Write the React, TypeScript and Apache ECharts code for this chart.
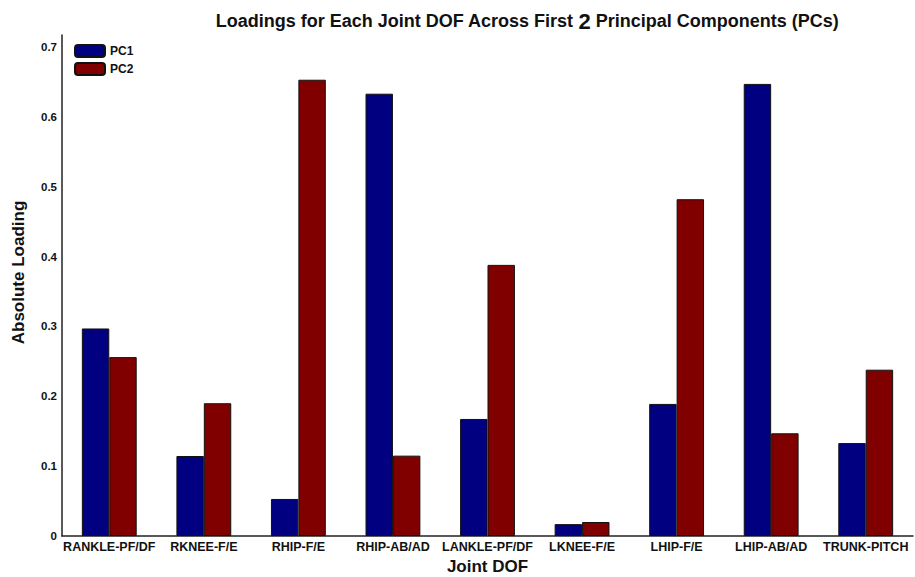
import React, { useEffect, useRef } from "react";
import * as echarts from "echarts";

const categories = [
  "RANKLE-PF/DF",
  "RKNEE-F/E",
  "RHIP-F/E",
  "RHIP-AB/AD",
  "LANKLE-PF/DF",
  "LKNEE-F/E",
  "LHIP-F/E",
  "LHIP-AB/AD",
  "TRUNK-PITCH",
];
const pc1 = [0.297, 0.1145, 0.053, 0.633, 0.1675, 0.017, 0.189, 0.647, 0.133];
const pc2 = [0.256, 0.19, 0.653, 0.115, 0.388, 0.02, 0.482, 0.147, 0.238];

const SANS = '"Liberation Sans", Arial, Helvetica, sans-serif';

export default function App() {
  const ref = useRef<HTMLDivElement>(null);
  useEffect(() => {
    if (!ref.current) return;
    const chart = echarts.init(ref.current, null, { renderer: "svg" });
    chart.setOption({
      animation: false,
      backgroundColor: "#ffffff",
      title: {
        text: "{a|Loadings for Each Joint DOF Across First }{b|2}{a| Principal Components (PCs)}",
        left: 522,
        top: 5,
        textAlign: "center",
        textStyle: {
          rich: {
            a: { fontFamily: SANS, fontSize: 18, fontWeight: "bold", color: "#111" },
            b: { fontFamily: SANS, fontSize: 22, fontWeight: "bold", color: "#111" },
          },
        },
      },
      legend: {
        orient: "vertical",
        left: 69,
        top: 39,
        itemWidth: 30,
        itemHeight: 12,
        itemGap: 4,
        icon: "roundRect",
        textStyle: { fontFamily: SANS, fontSize: 12, fontWeight: "bold", color: "#111" },
        data: ["PC1", "PC2"],
      },
      grid: { left: 62, right: 2, top: 35, bottom: 41, containLabel: false, outerBoundsMode: "none" },
      xAxis: {
        type: "category",
        data: categories,
        name: "Joint DOF",
        nameLocation: "middle",
        nameGap: 22,
        nameTextStyle: { fontFamily: SANS, fontSize: 17, fontWeight: "bold", color: "#111" },
        axisLine: { show: true, lineStyle: { color: "#222", width: 1.5 } },
        axisTick: { show: false },
        axisLabel: { fontFamily: SANS, fontSize: 12.5, fontWeight: "bold", color: "#111", margin: 4, interval: 0 },
      },
      yAxis: {
        type: "value",
        min: 0,
        max: 0.717,
        interval: 0.1,
        name: "Absolute Loading",
        nameLocation: "middle",
        nameGap: 35,
        nameTextStyle: {
          fontFamily: SANS,
          fontSize: 17,
          fontWeight: "bold",
          color: "#111",
          padding: [0, 0, 0, 26],
        },
        axisLine: { show: true, lineStyle: { color: "#222", width: 1.5 } },
        axisTick: { show: false },
        splitLine: { show: false },
        axisLabel: {
          fontFamily: SANS,
          fontSize: 11.5,
          fontWeight: "bold",
          color: "#111",
          margin: 5,
          showMaxLabel: false,
          formatter: (v: number) => (v === 0 ? "0" : String(Math.round(v * 10) / 10)),
        },
      },
      series: [
        {
          name: "PC1",
          type: "bar",
          data: pc1,
          barGap: "0%",
          barCategoryGap: "42%",
          itemStyle: { color: "#000080", borderColor: "#111", borderWidth: 1 },
        },
        {
          name: "PC2",
          type: "bar",
          data: pc2,
          barGap: "0%",
          barCategoryGap: "42%",
          itemStyle: { color: "#800000", borderColor: "#111", borderWidth: 1 },
        },
      ],
    });
    return () => chart.dispose();
  }, []);
  return <div ref={ref} style={{ width: 915, height: 577, position: "absolute", left: 0, top: 0 }} />;
}
